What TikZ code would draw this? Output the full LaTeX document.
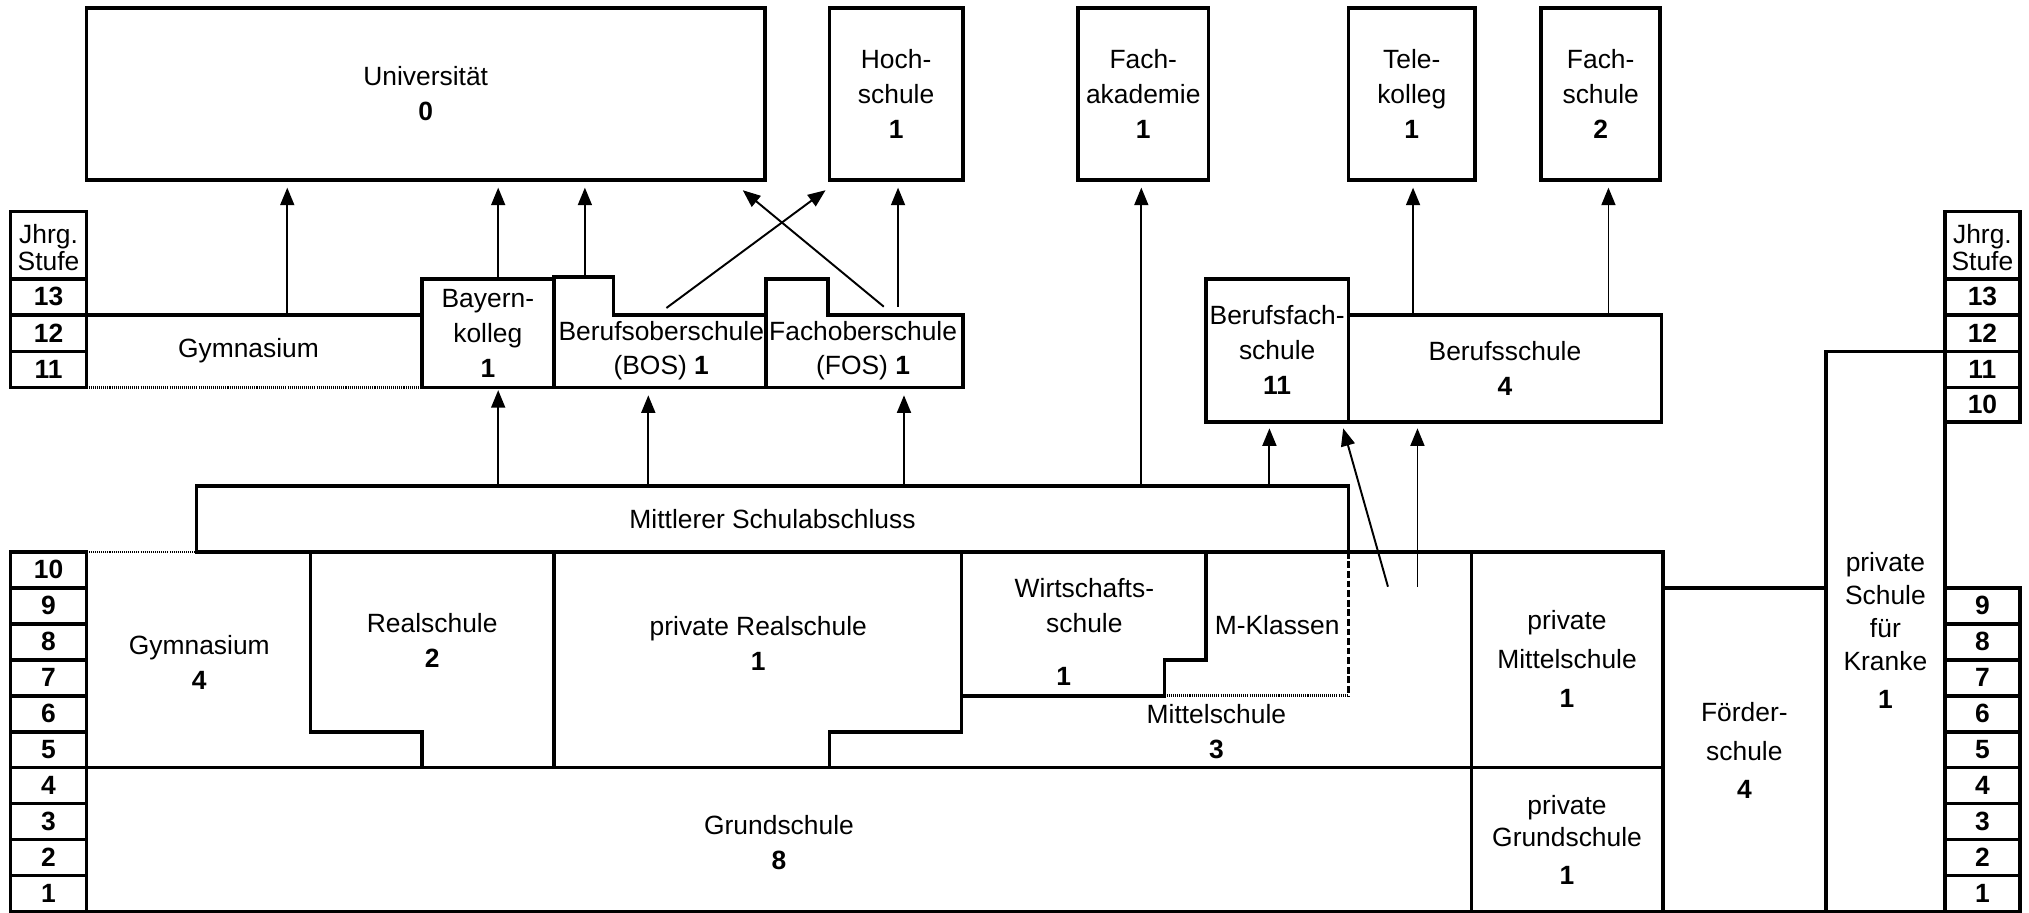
\documentclass[tikz,border=0pt]{standalone}
\usepackage{fontspec}
\setmainfont{Liberation Sans}
\usetikzlibrary{arrows.meta}
\begin{document}
\begin{tikzpicture}[x=0.5pt,y=-0.5pt,
  wall/.style={line width=1.35pt, line cap=rect, line join=miter},
  tbox/.style={draw, line width=1.35pt, inner sep=0pt, align=center, font=\fontsize{10.2}{13.5}\selectfont},
  lbl/.style={inner sep=0pt, align=center, font=\fontsize{10.2}{13.5}\selectfont},
  num/.style={inner sep=0pt, font=\fontsize{10.2}{13.5}\selectfont\bfseries},
  dotline/.style={line width=1pt, dash pattern=on 0.4pt off 0.4pt},
  dashline/.style={line width=1.1pt, dash pattern=on 2.6pt off 1.1pt},
  arr/.style={line width=0.75pt, -{Triangle[length=6.8pt,width=5.4pt]}},
]
\useasboundingbox (0,0) rectangle (1568,705.56);

% ---------- grade columns (upper part) ----------
\draw[wall] (8,163.6) rectangle (67,215.5);
\node[lbl, font=\fontsize{10.2}{10.5}\selectfont] (jl) at (37.5,191) {Jhrg.\\Stufe};
\draw[wall] (8,215.5) rectangle (67,243.4);
\node[num] (gl13) at (37.5,229.45) {13};
\draw[wall] (8,243.4) rectangle (67,271.8);
\node[num] (gl12) at (37.5,257.6) {12};
\draw[wall] (8,271.8) rectangle (67,299.5);
\node[num] (gl11) at (37.5,285.65) {11};

\draw[wall] (1503,163.6) rectangle (1561,215.5);
\node[lbl, font=\fontsize{10.2}{10.5}\selectfont] (jr) at (1532,191) {Jhrg.\\Stufe};
\draw[wall] (1503,215.5) rectangle (1561,243.4);
\node[num] (gr13) at (1532,229.45) {13};
\draw[wall] (1503,243.4) rectangle (1561,271.8);
\node[num] (gr12) at (1532,257.6) {12};
\draw[wall] (1503,271.8) rectangle (1561,299.5);
\node[num] (gr11) at (1532,285.65) {11};
\draw[wall] (1503,299.5) rectangle (1561,326);
\node[num] (gr10) at (1532,312.75) {10};

% ---------- grade columns (lower part) ----------
\foreach \k in {1,...,10} {
  \draw[wall] (8,{704.5-27.8*\k}) rectangle (67,{704.5-27.8*(\k-1)});
  \node[num] (gl\k) at (37.5,{704.5-27.8*\k+13.9}) {\k};
}
\foreach \k in {1,...,9} {
  \draw[wall] (1503,{704.5-27.8*\k}) rectangle (1561,{704.5-27.8*(\k-1)});
  \node[num] (gr\k) at (1532,{704.5-27.8*\k+13.9}) {\k};
}

% ---------- lower block ----------
\draw[wall] (67,593.3) -- (1285,593.3);
\draw[wall] (67,704.5) -- (1503,704.5);
\draw[wall] (152,426.5) -- (1285,426.5);
\draw[dotline] (67,426.5) -- (152,426.5);
\draw[wall] (240,426.5) -- (240,565.5) -- (326,565.5) -- (326,593.3);
\draw[wall] (428,426.5) -- (428,593.3);
\draw[wall] (743,426.5) -- (743,565.5) -- (641,565.5) -- (641,593.3);
\draw[wall] (743,537.7) -- (900,537.7) -- (900,509.9) -- (932,509.9) -- (932,426.5);
\draw[dotline] (900,537.7) -- (1042,537.7);
\draw[dashline] (1042,426.5) -- (1042,537.7);
\draw[wall] (1137,426.5) -- (1137,704.5);
\draw[wall] (1285,426.5) -- (1285,704.5);
\draw[wall] (1285,454.3) -- (1411,454.3);
\draw[wall] (1411,704.5) -- (1411,271.8) -- (1503,271.8) -- (1503,704.5);

% ---------- upper block ----------
\draw[wall] (67,243.4) -- (326,243.4);
\draw[dotline] (67,299.5) -- (326,299.5);
\draw[wall] (428,299.5) -- (428,214) -- (474,214) -- (474,243.4) -- (592,243.4) -- (592,299.5) -- cycle;
\draw[wall] (592,299.5) -- (592,215.5) -- (640,215.5) -- (640,243.4) -- (744,243.4) -- (744,299.5) -- cycle;

% ---------- boxes as nodes ----------
\node[tbox, minimum width=262pt, minimum height=66.5pt] (uni) at (329,72.5) {Universität\\\textbf{0}};
\node[tbox, minimum width=51.5pt, minimum height=66.5pt] (hoch) at (692.5,72.5) {Hoch-\\schule\\\textbf{1}};
\node[tbox, minimum width=50.5pt, minimum height=66.5pt] (fak) at (883.5,72.5) {Fach-\\akademie\\\textbf{1}};
\node[tbox, minimum width=49pt, minimum height=66.5pt] (tele) at (1091,72.5) {Tele-\\kolleg\\\textbf{1}};
\node[tbox, minimum width=46pt, minimum height=66.5pt] (fsch) at (1237,72.5) {Fach-\\schule\\\textbf{2}};
\node[tbox, minimum width=51pt, minimum height=42pt] (bk) at (377,257.5) {Bayern-\\kolleg\\\textbf{1}};
\node[tbox, minimum width=55pt, minimum height=55.25pt] (bfs) at (987,270.75) {Berufsfach-\\schule\\\textbf{11}};
\node[tbox, minimum width=121pt, minimum height=41.3pt] (bs) at (1163,284.7) {Berufsschule\\\textbf{4}};
\node[tbox, minimum width=445pt, minimum height=25.45pt] (msa) at (597,401.05) {Mittlerer Schulabschluss};

% ---------- labels ----------
\node[lbl] (gymU) at (192,271) {Gymnasium};
\node[lbl] (bos) at (511,271) {Berufsoberschule\\(BOS) \textbf{1}};
\node[lbl] (fos) at (667,271) {Fachoberschule\\(FOS) \textbf{1}};
\node[lbl] (gymL) at (154,512) {Gymnasium\\\textbf{4}};
\node[lbl] (real) at (334,495) {Realschule\\\textbf{2}};
\node[lbl] (preal) at (586,497) {private Realschule\\\textbf{1}};
\node[lbl] (wirt) at (838,468) {Wirtschafts-\\schule};
\node[num] (wirtn) at (822,523) {1};
\node[lbl] (mkl) at (987,483) {M-Klassen};
\node[lbl] (mit) at (940,565) {Mittelschule\\\textbf{3}};
\node[lbl, font=\fontsize{10.2}{15}\selectfont] (pmit) at (1211,509) {private\\Mittelschule\\\textbf{1}};
\node[lbl, font=\fontsize{10.2}{12.5}\selectfont] (pgrund) at (1211,649) {private\\Grundschule\\[2pt]\textbf{1}};
\node[lbl, font=\fontsize{10.2}{15}\selectfont] (foerd) at (1348,580) {Förder-\\schule\\\textbf{4}};
\node[lbl, font=\fontsize{10.2}{12.75}\selectfont] (kranke) at (1457,487) {private\\Schule\\für\\Kranke\\[2pt]\textbf{1}};
\node[lbl] (grund) at (602,651) {Grundschule\\\textbf{8}};

% ---------- arrow end points ----------
\coordinate (a1s) at (222,243.4);   \coordinate (a1e) at (222,145);
\coordinate (a2s) at (385,215.5);   \coordinate (a2e) at (385,145);
\coordinate (a3s) at (452,214);     \coordinate (a3e) at (452,145);
\coordinate (a4s) at (683,237);     \coordinate (a4e) at (574,147);
\coordinate (a5s) at (515,238);     \coordinate (a5e) at (638,147);
\coordinate (a6s) at (694,237);     \coordinate (a6e) at (694,145);
\coordinate (a7s) at (882,375.6);   \coordinate (a7e) at (882,145);
\coordinate (a8s) at (1092,243.4);  \coordinate (a8e) at (1092,145);
\coordinate (a9s) at (1243,243.4);  \coordinate (a9e) at (1243,145);
\coordinate (a10s) at (385,375.6);  \coordinate (a10e) at (385,301.5);
\coordinate (a11s) at (501,375.6);  \coordinate (a11e) at (501,305.5);
\coordinate (a12s) at (698.6,375.6);\coordinate (a12e) at (698.6,305.5);
\coordinate (a13s) at (981,375.6);  \coordinate (a13e) at (981,331);
\coordinate (a14s) at (1072.6,453.4);\coordinate (a14e) at (1038,331);
\coordinate (a15s) at (1095.4,453.4);\coordinate (a15e) at (1095.4,331);

\foreach \i in {1,...,15} { \draw[arr] (a\i s) -- (a\i e); }

\end{tikzpicture}
\end{document}
